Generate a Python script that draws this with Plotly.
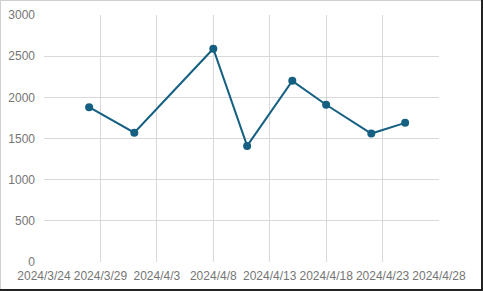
import plotly.graph_objects as go

dates = ["2024-03-28", "2024-04-01", "2024-04-08", "2024-04-11",
         "2024-04-15", "2024-04-18", "2024-04-22", "2024-04-25"]
values = [1880, 1570, 2590, 1410, 2200, 1910, 1560, 1690]

tick_dates = ["2024-03-24", "2024-03-29", "2024-04-03", "2024-04-08",
              "2024-04-13", "2024-04-18", "2024-04-23", "2024-04-28"]
tick_labels = ["2024/3/24", "2024/3/29", "2024/4/3", "2024/4/8",
               "2024/4/13", "2024/4/18", "2024/4/23", "2024/4/28"]
y_ticks = [0, 500, 1000, 1500, 2000, 2500, 3000]

W, H = 483, 291
L, R, T, B = 44, 44, 15, 29
pw, ph = W - L - R, H - T - B

def px(x):
    return (x - L) / pw

def py(y):
    return 1 - (y - T) / ph

fig = go.Figure()
fig.add_trace(go.Scatter(
    x=dates, y=values, mode="lines+markers",
    line=dict(color="#156082", width=2),
    marker=dict(color="#156082", size=8),
    cliponaxis=False,
))

font = dict(family="Liberation Sans, Arial, sans-serif", size=12, color="#757575")

fig.update_layout(
    width=W, height=H,
    margin=dict(l=L, r=R, t=T, b=B, autoexpand=False),
    paper_bgcolor="white", plot_bgcolor="white",
    showlegend=False,
    font=font,
    xaxis=dict(
        type="date", range=["2024-03-24", "2024-04-28"],
        tickvals=tick_dates, ticktext=tick_labels,
        showgrid=True, gridcolor="#d9d9d9", gridwidth=1,
        showline=False, zeroline=False,
        ticks="outside", ticklen=3, tickcolor="rgba(0,0,0,0)",
        tickfont=font, tickangle=0,
        automargin=False,
    ),
    yaxis=dict(
        range=[0, 3000], tickvals=y_ticks,
        showgrid=True, gridcolor="#d9d9d9", gridwidth=1,
        showline=False, zeroline=False, ticks="",
        tickfont=font, ticklabelstandoff=8, automargin=False,
    ),
    shapes=[
        dict(type="line", xref="paper", yref="paper", x0=px(0.5), x1=px(0.5), y0=py(0), y1=py(H),
             line=dict(color="#d0d0d0", width=1)),
        dict(type="line", xref="paper", yref="paper", x0=px(0), x1=px(W), y0=py(0.5), y1=py(0.5),
             line=dict(color="#d0d0d0", width=1)),
        dict(type="line", xref="paper", yref="paper", x0=px(0), x1=px(W), y0=py(H - 1), y1=py(H - 1),
             line=dict(color="#222222", width=2)),
        dict(type="line", xref="paper", yref="paper", x0=px(W - 1), x1=px(W - 1), y0=py(0), y1=py(H),
             line=dict(color="#222222", width=2)),
    ],
)

fig.write_html("out.html")
